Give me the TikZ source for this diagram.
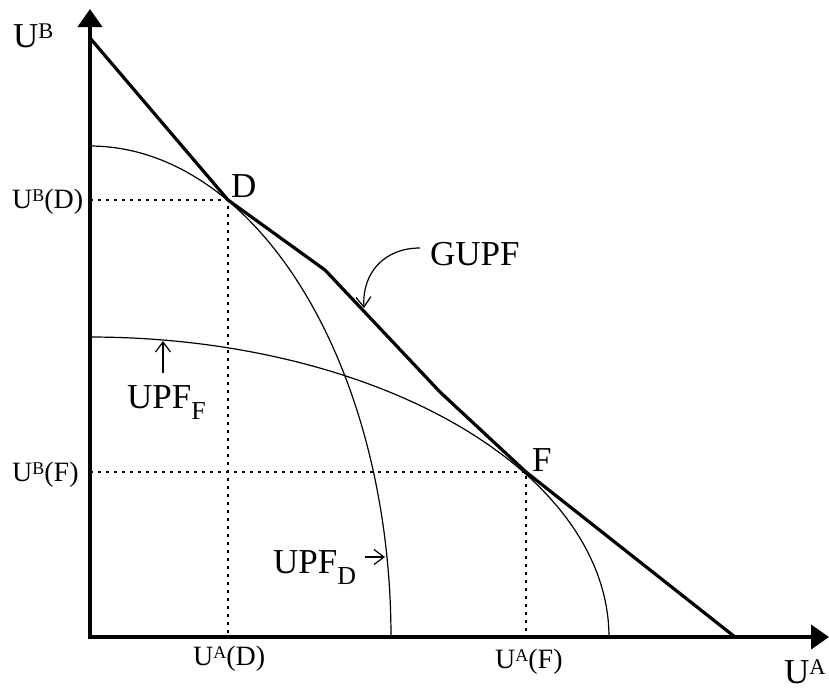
\documentclass[tikz,border=0pt]{standalone}
\usepackage{fontspec}
\usepackage{graphicx}
\setmainfont{Liberation Serif}
\usetikzlibrary{arrows.meta}
\newcommand{\mysup}[1]{\raisebox{0.24em}{\scalebox{0.64}{#1}}}
\newcommand{\mysub}[1]{\raisebox{-0.33em}{\scalebox{0.74}{#1}}}
\begin{document}
\begin{tikzpicture}[x=1pt,y=-1pt,
  axis/.style={line width=4pt,-{Triangle[length=18pt,width=24pt]}},
  gupf/.style={line width=3.2pt,line join=round,line cap=round},
  upf/.style={line width=1.2pt},
  guide/.style={line width=1.5pt,dash pattern=on 3pt off 5pt},
  lbl/.style={font=\fontsize{28}{30}\selectfont,anchor=base west,inner sep=0pt},
  big/.style={font=\fontsize{35}{38}\selectfont,anchor=base west,inner sep=0pt},
  pointer/.style={line width=1.2pt,-{Straight Barb[length=10pt,width=15pt]}}]
\useasboundingbox (0,0) rectangle (829,689);
% key points
\coordinate (O) at (90,637);
\coordinate (Ybot) at (90,639);
\coordinate (Xleft) at (88,637);
\coordinate (Ytip) at (90,9);
\coordinate (Xtip) at (829,637);
\coordinate (G0) at (90,38);
\coordinate (D) at (228,200);
\coordinate (K1) at (325,270);
\coordinate (K2) at (440,392);
\coordinate (F) at (526,472);
\coordinate (G1) at (735,637);
\coordinate (DyB) at (90,200);
\coordinate (DxA) at (228,637);
\coordinate (FyB) at (90,472);
\coordinate (FxA) at (526,637);
% guides
\draw[guide] (DyB) -- (D) -- (DxA);
\draw[guide] (FyB) -- (F) -- (FxA);
% UPF curves
\draw[upf] plot[domain=0:90,samples=120,smooth] ({90+301*cos(\x)},{637-491*sin(\x)});
\draw[upf] plot[domain=0:90,samples=120,smooth] ({90+519*cos(\x)},{637-300*sin(\x)});
% GUPF
\draw[gupf] (G0) -- (D) -- (K1) -- (K2) -- (F) -- (G1);
% axes
\draw[axis] (Ybot) -- (Ytip);
\draw[axis] (Xleft) -- (Xtip);
% labels
\node[big] (UB) at (13,47) {U\mysup{B}};
\node[lbl] (UBD) at (12,208) {U\mysup{B}(D)};
\node[lbl] (UBF) at (12,481) {U\mysup{B}(F)};
\node[lbl] (UAD) at (193,665) {U\mysup{A}(D)};
\node[lbl] (UAF) at (495,668) {U\mysup{A}(F)};
\node[big] (UA) at (784,683) {U\mysup{A}};
\node[big] (Dlbl) at (231,197) {D};
\node[big] (Flbl) at (532,471) {F};
\node[big] (GUPF) at (430,265) {GUPF};
\node[big] (UPFF) at (127,408) {UPF\mysub{F}};
\node[big] (UPFD) at (273,573) {UPF\mysub{D}};
% pointers
\coordinate (gs) at (420,248);
\coordinate (gt) at (364,308);
\coordinate (fs) at (163,373);
\coordinate (ft) at (163,341);
\coordinate (ds) at (365,557);
\coordinate (dt) at (385,557);
\draw[pointer] (gs) .. controls (385,248) and (362,272) .. (gt);
\draw[pointer] (fs) -- (ft);
\draw[pointer] (ds) -- (dt);
\end{tikzpicture}
\end{document}
